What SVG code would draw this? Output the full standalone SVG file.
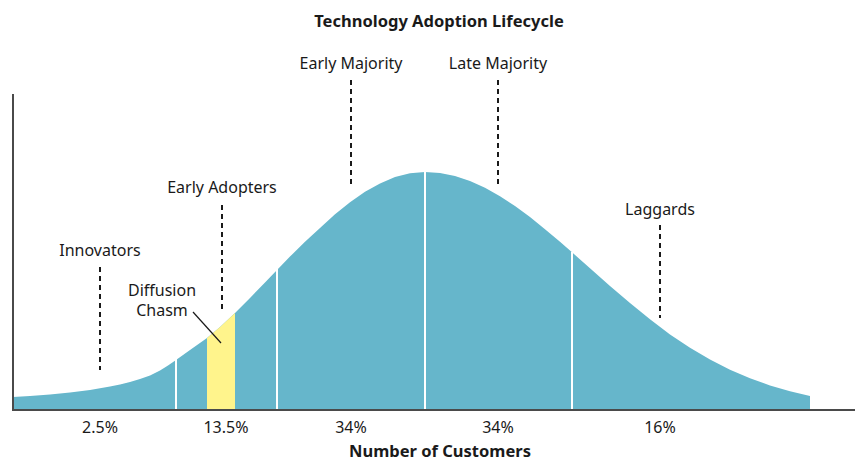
<svg xmlns="http://www.w3.org/2000/svg" width="855" height="461" viewBox="0 0 855 461">
<style>
.t{font-family:"Noto Sans","Open Sans","Liberation Sans",sans-serif;fill:#1a1a1a;text-anchor:middle}
.lab{font-size:16px}
.b{font-size:16.5px;font-weight:bold}
.dash{stroke:#1a1a1a;stroke-width:2;stroke-dasharray:5 4;fill:none}
.sep{stroke:#ffffff;stroke-width:2}
.axis{stroke:#4a4a4a;stroke-width:2;fill:none}
</style>
<rect width="855" height="461" fill="#ffffff"/>
<g id="curve">
<path fill="#66b6cb" d="M13,410 L13,397 L30,396 L50,394.5 L70,392.5 L90,390 L110,386.5 L120,384.5 L130,382 L140,379 L150,375.5 L160,370.5 L168,365.5 L176,360 L190,350 L207,338 L220,327 L235,313 L250,298 L265,282.5 L277,270 L290,256.6 L305,241.8 L320,228 L335,214.2 L350,202.2 L365,191.8 L380,183.4 L395,177.1 L410,173.3 L425,172 L440,173 L455,176 L470,181 L485,187.8 L500,196.2 L515,206 L530,217.1 L545,229.2 L560,241.8 L572,252.3 L590,268.3 L610,286 L630,303.1 L650,319.3 L670,334.4 L690,347.7 L710,359.5 L730,369.7 L750,378.3 L770,385.4 L790,391.3 L810,396 L810,410 Z"/>
</g>
<g id="chasm">
<path fill="#fff48c" d="M207,338 L220,327 L235,313 L235,410 L207,410 Z"/>
</g>
<g id="separators">
<line class="sep" x1="176" y1="359" x2="176" y2="410"/>
<line class="sep" x1="277" y1="269" x2="277" y2="410"/>
<line class="sep" x1="425" y1="172" x2="425" y2="410"/>
<line class="sep" x1="572" y1="252" x2="572" y2="410"/>
</g>
<g id="axes">
<polyline class="axis" points="13,94 13,410 855,410"/>
</g>
<g id="connectors">
<line class="dash" x1="100" y1="267" x2="100" y2="370"/>
<line class="dash" x1="222" y1="205" x2="222" y2="310"/>
<line class="dash" x1="351" y1="80" x2="351" y2="186"/>
<line class="dash" x1="498" y1="80" x2="498" y2="186"/>
<line class="dash" x1="660" y1="225" x2="660" y2="318"/>
<line x1="193" y1="312" x2="221" y2="343" stroke="#1a1a1a" stroke-width="1.2"/>
</g>
<text class="t b" x="439" y="27">Technology Adoption Lifecycle</text>
<g id="innovators"><text class="t lab" x="100" y="256">Innovators</text></g>
<g id="early-adopters"><text class="t lab" x="222" y="193">Early Adopters</text></g>
<g id="early-majority"><text class="t lab" x="351" y="69">Early Majority</text></g>
<g id="late-majority"><text class="t lab" x="498" y="69">Late Majority</text></g>
<g id="laggards"><text class="t lab" x="660" y="215">Laggards</text></g>
<g id="diffusion-chasm"><text class="t lab" x="162" y="296">Diffusion</text><text class="t lab" x="162" y="316">Chasm</text></g>
<g id="percentages">
<text class="t lab" x="100" y="433">2.5%</text>
<text class="t lab" x="226" y="433">13.5%</text>
<text class="t lab" x="351" y="433">34%</text>
<text class="t lab" x="498" y="433">34%</text>
<text class="t lab" x="660" y="433">16%</text>
</g>
<text class="t b" x="440" y="457">Number of Customers</text>
</svg>
